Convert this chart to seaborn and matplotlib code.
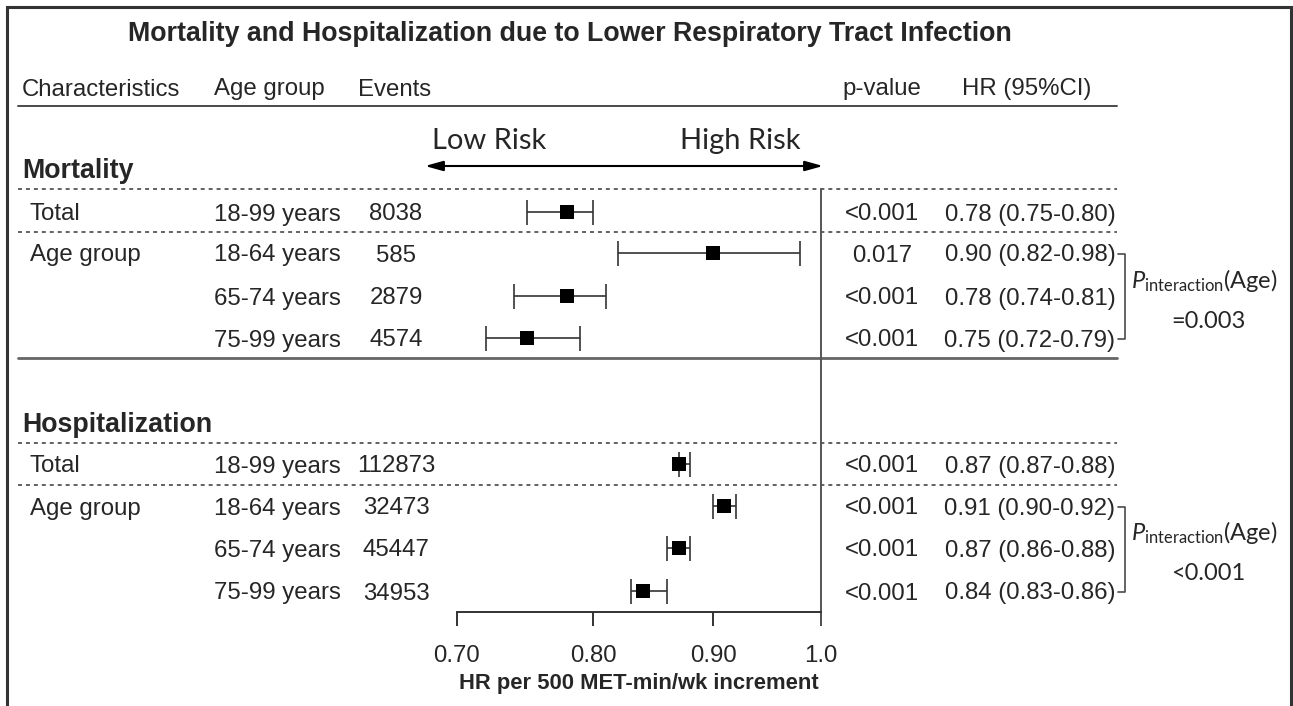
import numpy as np
import pandas as pd
import matplotlib
matplotlib.use("Agg")
import matplotlib.pyplot as plt
from matplotlib.ticker import FixedLocator, NullLocator
import seaborn as sns

# ---------------- data ----------------
sections = ["Mortality", "Hospitalization"]
characteristics = ["Total", "Age group", "", ""]
age_groups = ["18-99 years", "18-64 years", "65-74 years", "75-99 years"]

mort_events = [8038, 585, 2879, 4574]
mort_hr = [0.78, 0.90, 0.78, 0.75]
mort_lo = [0.75, 0.82, 0.74, 0.72]
mort_hi = [0.80, 0.98, 0.81, 0.79]
mort_p = ["<0.001", "0.017", "<0.001", "<0.001"]

hosp_events = [112873, 32473, 45447, 34953]
hosp_hr = [0.87, 0.91, 0.87, 0.84]
hosp_lo = [0.87, 0.90, 0.86, 0.83]
hosp_hi = [0.88, 0.92, 0.88, 0.86]
hosp_p = ["<0.001", "<0.001", "<0.001", "<0.001"]

p_interaction = ["=0.003", "<0.001"]

x_ticks = [0.70, 0.80, 0.90, 1.0]
x_tick_labels = ["0.70", "0.80", "0.90", "1.0"]

title = "Mortality and Hospitalization due to Lower Respiratory Tract Infection"
col_headers = ["Characteristics", "Age group", "Events", "p-value", "HR (95%CI)"]
x_label = "HR per 500 MET-min/wk increment"

# ---------------- layout (pixels) ----------------
W, H = 1293, 706
sns.set_theme(style="white")
plt.rcParams["font.family"] = ["Liberation Sans", "DejaVu Sans"]
plt.rcParams["mathtext.fontset"] = "custom"
plt.rcParams["mathtext.it"] = "Lato:italic"
plt.rcParams["mathtext.rm"] = "Lato"

row_y = [[212, 253, 296, 338], [464, 506, 548, 591]]
header_y = [168, 422]
dash_y = [[189, 232], [443, 485]]
axis_y = 612
top_y = 106
x_left_px, x_right_px = 457, 820.5
FS = 17.3
BOFF = 8.5   # baseline offset below row centre
LC = "#4a4a4a"

fig = plt.figure(figsize=(W / 100, H / 100), dpi=100)
bg = fig.add_axes([0, 0, 1, 1])
bg.set_xlim(0, W)
bg.set_ylim(H, 0)
bg.axis("off")

ax = fig.add_axes([x_left_px / W, 1 - axis_y / H,
                   (x_right_px - x_left_px) / W, (axis_y - top_y) / H])
ax.set_xscale("log")
ax.set_xlim(0.70, 1.0)
ax.set_ylim(axis_y, top_y)
ax.patch.set_alpha(0)

# frame
bg.plot([7, 7, 1291, 1291], [H + 5, 7, 7, H + 5], color="#333333", lw=2.2,
        solid_joinstyle="miter", clip_on=False)

# title & headers
bg.text(570, 34, title, ha="center", va="center", fontsize=19.3, fontweight="bold")
hdr_x = [22, 214, 358, 882, 1027]
hdr_ha = ["left", "left", "left", "center", "center"]
for t, x, ha in zip(col_headers, hdr_x, hdr_ha):
    bg.text(x, 87 + BOFF, t, ha=ha, va="baseline", fontsize=FS)
bg.plot([18, 1117], [top_y, top_y], color=LC, lw=1.4)

# risk arrow
bg.annotate("", xy=(425, 166), xytext=(823, 166),
            arrowprops=dict(arrowstyle="<|-|>,head_length=0.9,head_width=0.25",
                            color="black", lw=1.5, shrinkA=0, shrinkB=0))
bg.text(489, 141, "Low Risk", ha="center", va="center", fontsize=21, family="Lato")
bg.text(740, 141, "High Risk", ha="center", va="center", fontsize=21, family="Lato")

# rows
records = []
all_events = [mort_events, hosp_events]
all_hr = [mort_hr, hosp_hr]
all_lo = [mort_lo, hosp_lo]
all_hi = [mort_hi, hosp_hi]
all_p = [mort_p, hosp_p]
for s, sec in enumerate(sections):
    bg.text(22, header_y[s] + 9.5, sec, ha="left", va="baseline", fontsize=19.3,
            fontweight="bold")
    for dy in dash_y[s]:
        bg.plot([18, 1117], [dy, dy], color="#555555", lw=1.3, ls=(0, (2.2, 2.2)))
    for i in range(4):
        y = row_y[s][i] + BOFF
        bg.text(30, y, characteristics[i], ha="left", va="baseline", fontsize=FS)
        bg.text(214, y, age_groups[i], ha="left", va="baseline", fontsize=FS)
        bg.text(396, y, str(all_events[s][i]), ha="center", va="baseline", fontsize=FS)
        bg.text(882, y, all_p[s][i], ha="center", va="baseline", fontsize=FS)
        bg.text(1030, y, f"{all_hr[s][i]:.2f} ({all_lo[s][i]:.2f}-{all_hi[s][i]:.2f})",
                ha="center", va="baseline", fontsize=FS)
        records.append(dict(section=sec, y=row_y[s][i], hr=all_hr[s][i],
                            lo=all_lo[s][i], hi=all_hi[s][i]))
    # bracket for interaction
    y0, y1 = row_y[s][1] + 1, row_y[s][3] + 1
    bg.plot([1118, 1125, 1125, 1118], [y0, y0, y1, y1], color=LC, lw=1.2)
    bg.text(1204, (row_y[s][1] + row_y[s][2]) / 2 + 6, r"$P_{\mathrm{interaction}}$(Age)",
            ha="center", va="center", fontsize=17, family="Lato")
    bg.text(1208, (row_y[s][2] + row_y[s][3]) / 2 + 4, p_interaction[s],
            ha="center", va="center", fontsize=17, family="Lato")

bg.plot([18, 1117], [358, 358], color="#666666", lw=2)

df = pd.DataFrame(records)

# reference line
ax.plot([1.0, 1.0], [dash_y[0][0], axis_y + 13], color="#555555", lw=1.4,
        clip_on=False, zorder=1)

# CIs and points
ax.errorbar(df["hr"], df["y"], xerr=[df["hr"] - df["lo"], df["hi"] - df["hr"]],
            fmt="none", ecolor="#333333", elinewidth=1.2, capsize=9, capthick=1.2,
            zorder=2)
sns.scatterplot(data=df, x="hr", y="y", marker="s", color="black", s=90,
                linewidth=0, ax=ax, legend=False, zorder=3)

# axis styling
for side in ["top", "right", "left"]:
    ax.spines[side].set_visible(False)
ax.spines["bottom"].set_color("#333333")
ax.spines["bottom"].set_linewidth(1.4)
ax.xaxis.set_major_locator(FixedLocator(x_ticks))
ax.xaxis.set_minor_locator(NullLocator())
ax.set_xticklabels(x_tick_labels)
ax.tick_params(axis="x", which="major", direction="out", length=10, width=1.4,
               color="#333333", pad=14, labelsize=FS, bottom=True)
ax.set_yticks([])
ax.set_xlabel(x_label, fontsize=15.8, fontweight="bold", labelpad=4)
ax.set_ylabel("")

fig.savefig("out.png", dpi=100)
